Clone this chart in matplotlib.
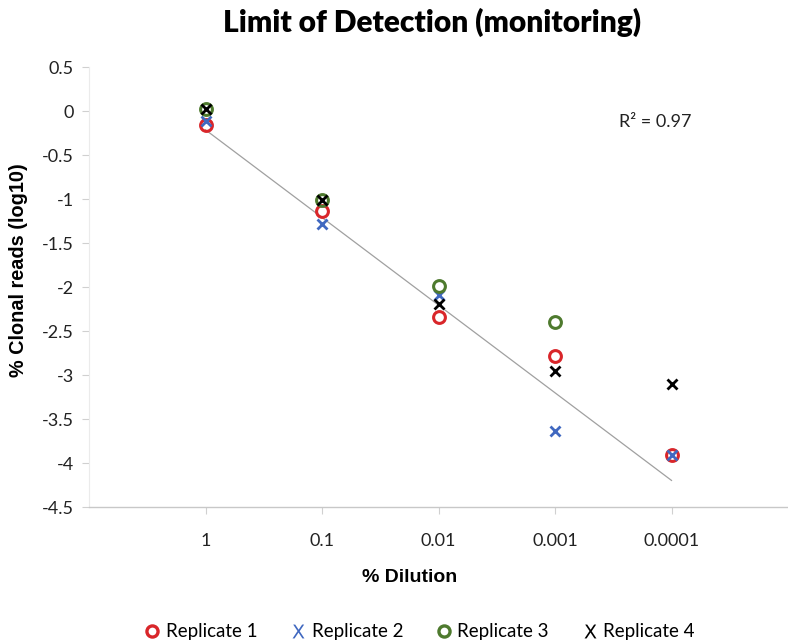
import numpy as np
import matplotlib
matplotlib.use('Agg')
import matplotlib.pyplot as plt
from matplotlib.lines import Line2D

# ============================================================
# DONNEES
# ============================================================

dilutions = ['1', '0.1', '0.01', '0.001', '0.0001']
rep1 = [-0.16, -1.14, -2.34, -2.78, -3.91]
rep2 = [-0.11, -1.28, -2.09, -3.64, -3.91]
rep3 = [0.02, -1.01, -1.99, -2.40, np.nan]
rep4 = [0.02, -1.01, -2.19, -2.95, -3.10]

x = np.arange(1, len(dilutions) + 1)

# tendance lineaire sur Replicate 2
pente, origine = np.polyfit(x, rep2, 1)
pred = pente * x + origine
r2 = 1 - np.sum((np.array(rep2) - pred) ** 2) / np.sum((np.array(rep2) - np.mean(rep2)) ** 2)

# ============================================================
# GRAPHIQUE
# ============================================================

red   = "#D9262A"
blue  = "#4068C0"
green = "#4E7A2E"
black = "#000000"
axis_color = "#D0D0D0"

fig = plt.figure(figsize=(7.88, 6.44), dpi=100)
ax = fig.add_axes([89 / 788, 137 / 644, 699 / 788, 440 / 644])

ax.plot(x, pred, color='#A0A0A0', linewidth=0.9, zorder=1)

ax.plot(x, rep1, linestyle='none', marker='o', markersize=8.5, markerfacecolor='none',
        markeredgecolor=red, markeredgewidth=2.2, zorder=2)
ax.plot(x, rep2, linestyle='none', marker='x', markersize=7.5,
        markeredgecolor=blue, markeredgewidth=2.0, zorder=3)
ax.plot(x, rep3, linestyle='none', marker='o', markersize=8.5, markerfacecolor='none',
        markeredgecolor=green, markeredgewidth=2.2, zorder=4)
ax.plot(x, rep4, linestyle='none', marker='x', markersize=7.5,
        markeredgecolor=black, markeredgewidth=2.0, zorder=5)

ax.set_xlim(0, 6)
ax.set_ylim(-4.5, 0.5)
ax.set_xticks(x)
ax.set_xticklabels(dilutions, fontfamily='Lato', fontsize=13)
ax.set_yticks(np.arange(-4.5, 0.51, 0.5))
ax.set_yticklabels(['-4.5', '-4', '-3.5', '-3', '-2.5', '-2', '-1.5', '-1', '-0.5', '0', '0.5'],
                   fontfamily='Lato', fontsize=13)
ax.tick_params(axis='both', colors=axis_color, labelcolor='#222222', length=5, width=0.8)
ax.tick_params(axis='x', pad=14)
ax.tick_params(axis='y', pad=6)

for s in ['top', 'right']:
    ax.spines[s].set_visible(False)
ax.spines['left'].set_color('#EBEBEB')
ax.spines['bottom'].set_color('#C8C8C8')
ax.spines['left'].set_linewidth(0.8)
ax.spines['bottom'].set_linewidth(1.0)

ax.text(0.81, 0.875, f'R² = {r2:.2f}', transform=ax.transAxes, ha='center', va='center',
        fontfamily='Lato', fontsize=13, color='#222222')

fig.text(432 / 788, 1 - 22 / 644, 'Limit of Detection (monitoring)', ha='center', va='center',
         fontfamily='Lato', fontweight='heavy', fontsize=21.5)
fig.text(410 / 788, 1 - 578 / 644, '% Dilution', ha='center', va='center',
         fontfamily='Liberation Sans', fontweight='bold', fontsize=14)
fig.text(19 / 788, 1 - 270 / 644, '% Clonal reads (log10)', ha='center', va='center', rotation=90,
         fontfamily='Liberation Sans', fontweight='bold', fontsize=14.3)

handles = [
    Line2D([], [], linestyle='none', marker='o', markersize=8, markerfacecolor='none',
           markeredgecolor=red, markeredgewidth=2.4),
    Line2D([], [], linestyle='none', marker=r'$\mathsf{X}$', markersize=10, markeredgewidth=0,
           color=blue),
    Line2D([], [], linestyle='none', marker='o', markersize=8, markerfacecolor='none',
           markeredgecolor=green, markeredgewidth=2.4),
    Line2D([], [], linestyle='none', marker=r'$\mathsf{X}$', markersize=10, markeredgewidth=0,
           color=black),
]
fig.legend(handles, ['Replicate 1', 'Replicate 2', 'Replicate 3', 'Replicate 4'],
           loc='center', bbox_to_anchor=(418 / 788, 1 - 632 / 644), ncol=4, frameon=False,
           prop={'family': 'Lato', 'size': 13.5}, handletextpad=0.1, columnspacing=1.6, handlelength=1.2)

plt.savefig('out.png', dpi=100)
